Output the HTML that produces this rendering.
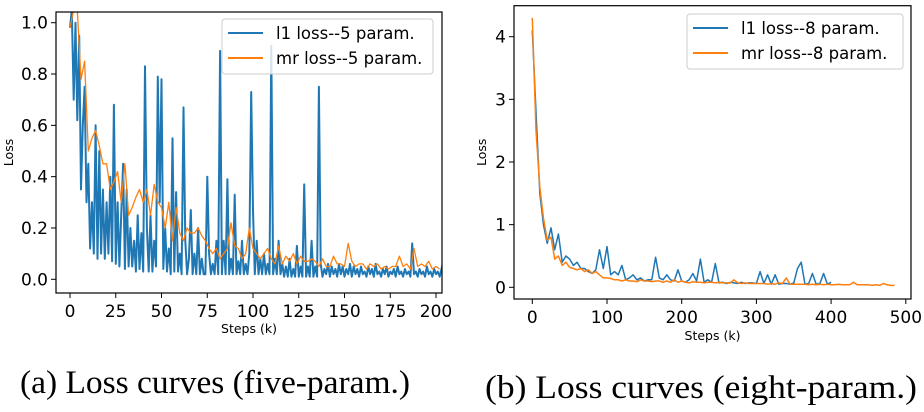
<!DOCTYPE html>
<html><head><meta charset="utf-8"><style>
body{margin:0;background:#fff;width:924px;height:412px;overflow:hidden}
svg{display:block}
.t{font-family:"DejaVu Sans","Liberation Sans",sans-serif;fill:#000}
.cap{font-family:"Liberation Serif",serif;font-size:33px;fill:#000}
</style></head><body>
<svg id="s" width="924" height="412">
<defs>
<clipPath id="cl"><rect x="56" y="12" width="386" height="281"/></clipPath>
<clipPath id="cr"><rect x="514" y="5.7" width="397" height="293.3"/></clipPath>
</defs>
<g id="left"></g>
<g id="right"></g>
<text class="cap" x="20" y="393" textLength="390" lengthAdjust="spacingAndGlyphs">(a) Loss curves (five-param.)</text>
<text class="cap" x="485" y="398" textLength="432" lengthAdjust="spacingAndGlyphs">(b) Loss curves (eight-param.)</text>
</svg>
<script>
const leftXTicks=[0,25,50,75,100,125,150,175,200];
const leftYTicks=["0.0","0.2","0.4","0.6","0.8","1.0"];
const leftYTickVals=[0,0.2,0.4,0.6,0.8,1.0];
const leftBlueStep=1;
const leftBlue=[0.98,1.05,0.7,1.0,0.62,0.95,0.35,0.6,0.75,0.3,0.45,0.12,0.3,0.1,0.6,0.08,0.5,0.1,0.35,0.08,0.3,0.1,0.4,0.07,0.68,0.06,0.3,0.05,0.25,0.45,0.04,0.35,0.05,0.2,0.05,0.15,0.03,0.25,0.04,0.18,0.03,0.83,0.2,0.03,0.25,0.03,0.15,0.05,0.79,0.3,0.78,0.04,0.2,0.03,0.12,0.02,0.55,0.03,0.34,0.03,0.1,0.02,0.67,0.15,0.02,0.08,0.27,0.02,0.1,0.02,0.2,0.02,0.08,0.02,0.02,0.4,0.1,0.02,0.06,0.02,0.15,0.02,0.89,0.02,0.15,0.02,0.39,0.02,0.08,0.02,0.33,0.02,0.07,0.02,0.15,0.02,0.06,0.02,0.1,0.73,0.27,0.02,0.15,0.02,0.08,0.02,0.1,0.02,0.06,0.02,0.91,0.02,0.08,0.02,0.15,0.02,0.06,0.01,0.05,0.01,0.08,0.01,0.04,0.01,0.13,0.01,0.05,0.01,0.37,0.01,0.05,0.01,0.15,0.01,0.05,0.01,0.75,0.06,0.01,0.04,0.02,0.06,0.01,0.05,0.02,0.04,0.01,0.06,0.02,0.05,0.01,0.04,0.02,0.06,0.01,0.05,0.02,0.04,0.01,0.05,0.02,0.03,0.01,0.05,0.02,0.04,0.01,0.06,0.02,0.03,0.01,0.04,0.02,0.05,0.01,0.03,0.02,0.04,0.01,0.05,0.02,0.03,0.01,0.04,0.02,0.03,0.01,0.14,0.02,0.03,0.01,0.04,0.02,0.03,0.01,0.05,0.02,0.03,0.01,0.04,0.02,0.03,0.01,0.04,0.07];
const leftOrangeStep=2;
const leftOrange=[0.98,1.05,1.05,0.78,0.85,0.5,0.55,0.58,0.52,0.45,0.45,0.35,0.38,0.42,0.3,0.45,0.25,0.28,0.32,0.35,0.3,0.35,0.25,0.37,0.3,0.28,0.2,0.3,0.15,0.28,0.18,0.15,0.2,0.18,0.18,0.2,0.17,0.15,0.12,0.1,0.12,0.08,0.1,0.12,0.22,0.13,0.12,0.08,0.1,0.2,0.12,0.1,0.08,0.1,0.12,0.08,0.06,0.13,0.06,0.09,0.07,0.1,0.06,0.09,0.07,0.07,0.08,0.07,0.05,0.08,0.05,0.05,0.09,0.06,0.06,0.05,0.14,0.07,0.05,0.06,0.06,0.04,0.06,0.05,0.06,0.04,0.05,0.04,0.05,0.05,0.09,0.05,0.06,0.04,0.12,0.05,0.06,0.05,0.07,0.04,0.05,0.04];
const rightXTicks=[0,100,200,300,400,500];
const rightYTicks=["0","1","2","3","4"];
const rightYTickVals=[0,1,2,3,4];
const rightBlueStep=5;
const rightBlue=[4.1,2.8,1.5,1.0,0.7,0.95,0.6,0.85,0.4,0.5,0.45,0.35,0.4,0.3,0.3,0.25,0.22,0.28,0.6,0.3,0.65,0.2,0.25,0.2,0.35,0.12,0.15,0.2,0.12,0.15,0.1,0.12,0.12,0.48,0.15,0.12,0.2,0.12,0.1,0.28,0.1,0.08,0.12,0.22,0.1,0.45,0.08,0.12,0.08,0.38,0.07,0.08,0.06,0.08,0.07,0.06,0.08,0.06,0.07,0.07,0.06,0.25,0.06,0.2,0.05,0.2,0.05,0.06,0.06,0.05,0.07,0.3,0.4,0.05,0.06,0.22,0.05,0.06,0.22,0.05,0.08];
const rightOrangeStep=5;
const rightOrange=[4.3,2.5,1.6,1.1,0.75,0.8,0.45,0.5,0.35,0.4,0.32,0.3,0.28,0.3,0.25,0.28,0.22,0.25,0.2,0.15,0.15,0.14,0.12,0.12,0.1,0.12,0.1,0.1,0.09,0.12,0.1,0.1,0.09,0.1,0.1,0.08,0.1,0.08,0.12,0.08,0.1,0.08,0.07,0.09,0.08,0.08,0.07,0.08,0.08,0.07,0.08,0.07,0.07,0.07,0.12,0.07,0.06,0.07,0.06,0.06,0.06,0.06,0.06,0.05,0.06,0.05,0.07,0.06,0.15,0.05,0.05,0.05,0.05,0.05,0.04,0.05,0.04,0.05,0.04,0.05,0.04,0.04,0.05,0.04,0.04,0.04,0.08,0.04,0.04,0.04,0.04,0.03,0.04,0.03,0.06,0.04,0.03,0.03];

const NS="http://www.w3.org/2000/svg";
function mk(tag,attrs,parent){const e=document.createElementNS(NS,tag);for(const k in attrs)e.setAttribute(k,attrs[k]);parent.appendChild(e);return e;}

function chart(g,cfg){
  const xs=v=>cfg.x0+(v-cfg.xv0)*cfg.xk;
  const ys=v=>cfg.y0-(v-cfg.yv0)*cfg.yk;
  const b=cfg.box;
  const sg=mk('g',{'clip-path':cfg.clip},g);
  cfg.series.forEach(s=>{
    const d=s.vals.map((v,i)=>(i?'L':'M')+xs(i*s.step).toFixed(1)+' '+ys(v).toFixed(1)).join('');
    const p=mk('path',{d:d,fill:'none',stroke:s.color,'stroke-width':s.w,'stroke-linejoin':'round'},sg);
    
    
  });
  const fr=mk('rect',{x:b[0],y:b[1],width:b[2]-b[0],height:b[3]-b[1],fill:'none',stroke:'#000','stroke-width':1.2},g);
  
  
  cfg.xt.forEach(v=>{
    const x=xs(v);
    mk('line',{x1:x,x2:x,y1:b[3],y2:b[3]+5,stroke:'#000'},g);
    const t=mk('text',{x:x,y:b[3]+24,'text-anchor':'middle','font-size':17,class:'t'},g);
    t.textContent=v;
    
    
  });
  cfg.yv.forEach((v,i)=>{
    const y=ys(v);
    mk('line',{x1:b[0]-5,x2:b[0],y1:y,y2:y,stroke:'#000'},g);
    const t=mk('text',{x:b[0]-8,y:y+6,'text-anchor':'end','font-size':17,class:'t'},g);
    t.textContent=cfg.yl[i];
    
    
  });
  const xl=mk('text',{x:(b[0]+b[2])/2,y:cfg.xly,'text-anchor':'middle','font-size':12.5,class:'t'},g);
  xl.textContent='Steps (k)';
  
  
  const yl=mk('text',{x:0,y:0,'text-anchor':'middle','font-size':12.5,class:'t',transform:`translate(${cfg.ylx},${(b[1]+b[3])/2}) rotate(-90)`},g);
  yl.textContent='Loss';
  
  
  const L=cfg.leg;
  const lg=mk('g',{},g);
  
  
  mk('rect',{x:L[0],y:L[1],width:L[2],height:L[3],rx:3,fill:'#fff','fill-opacity':0.8,stroke:'#ccc'},lg);
  cfg.series.forEach((s,i)=>{
    const y=L[1]+14+i*25;
    mk('line',{x1:L[0]+6,x2:L[0]+41,y1:y,y2:y,stroke:s.color,'stroke-width':2},lg);
    const t=mk('text',{x:L[0]+54,y:y+6,'font-size':16.5,class:'t'},lg);
    t.textContent=s.label;
    
    
  });
}
chart(document.getElementById('left'),{
  x0:70,xv0:0,xk:1.83,y0:279.3,yv0:0,yk:256.6,box:[56,12,442,293],clip:'url(#cl)',
  xt:leftXTicks,yv:leftYTickVals,yl:leftYTicks,xly:333,ylx:13,leg:[222,19,211,55],
  series:[
    {vals:leftBlue,step:leftBlueStep,color:'#1f77b4',w:2,name:'l1-loss-line',label:'l1 loss--5 param.'},
    {vals:leftOrange,step:leftOrangeStep,color:'#ff7f0e',w:1.3,name:'mr-loss-line',label:'mr loss--5 param.'}
  ]});
chart(document.getElementById('right'),{
  x0:532.3,xv0:0,xk:0.747,y0:287.3,yv0:0,yk:62.65,box:[514,5.7,911,299],clip:'url(#cr)',
  xt:rightXTicks,yv:rightYTickVals,yl:rightYTicks,xly:340,ylx:486,leg:[687,14,216,55],
  series:[
    {vals:rightBlue,step:rightBlueStep,color:'#1f77b4',w:1.5,name:'l1-loss-line',label:'l1 loss--8 param.'},
    {vals:rightOrange,step:rightOrangeStep,color:'#ff7f0e',w:1.5,name:'mr-loss-line',label:'mr loss--8 param.'}
  ]});
</script>
</body></html>
